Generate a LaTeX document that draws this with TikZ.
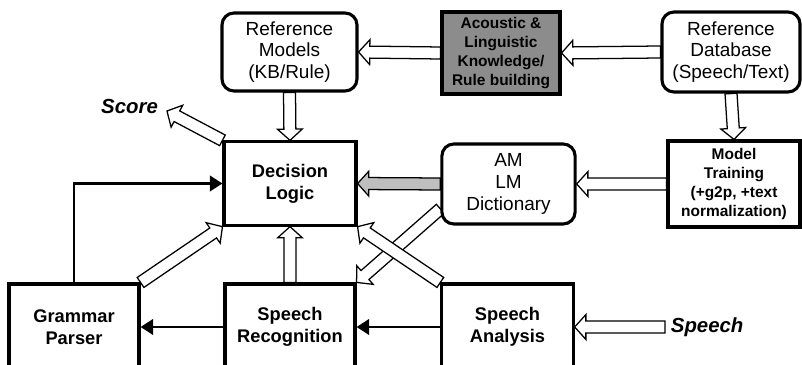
\documentclass[tikz,border=0pt]{standalone}
\usepackage{fontspec}
\setmainfont{Liberation Sans}
\usetikzlibrary{calc, arrows.meta, backgrounds}

\newcommand{\hollowarrow}[3][white]{%
  \coordinate (hb) at ($(#3)!0.28cm!(#2)$);
  \draw[line width=0.9pt, fill=#1, line join=miter]
    ($(#2)!0.15cm!90:(#3)$) -- ($(hb)!0.15cm!90:(#3)$) -- ($(hb)!0.31cm!90:(#3)$) -- (#3)
    -- ($(hb)!0.31cm!-90:(#3)$) -- ($(hb)!0.15cm!-90:(#3)$) -- ($(#2)!0.15cm!-90:(#3)$) -- cycle;}

\begin{document}
\begin{tikzpicture}[x=0.025cm, y=-0.025cm,
  blockbox/.style={draw, line width=2.2pt, fill=white, align=center, font=\fontsize{13}{15.5}\selectfont\bfseries},
  roundbox/.style={draw, line width=2.2pt, rounded corners=0.3cm, fill=white, align=center, font=\fontsize{13.5}{15.5}\selectfont},
  smallbold/.style={font=\fontsize{11}{13.4}\selectfont\bfseries},
  outlabel/.style={font=\fontsize{14.5}{17}\selectfont\bfseries\itshape},
  flow/.style={line width=2pt, -{Triangle[length=9pt, width=11pt]}}]

  \useasboundingbox (0,0) rectangle (802,365);
  \clip (0,0) rectangle (802,365);

  \node[roundbox, minimum width=3.375cm, minimum height=1.95cm] (refmod) at (289.5,52) {Reference\\Models\\(KB/Rule)};
  \node[blockbox, smallbold, fill=black!45, minimum width=2.95cm, minimum height=2.05cm] (acoustic) at (501,53) {Acoustic \&\\Linguistic\\Knowledge/\\Rule building};
  \node[roundbox, minimum width=3.45cm, minimum height=2cm] (refdb) at (731,52) {Reference\\Database\\(Speech/Text)};

  \node[blockbox, minimum width=3.3cm, minimum height=2.08cm] (decision) at (290,183.5) {Decision\\Logic};
  \node[roundbox, minimum width=3.33cm, minimum height=2cm] (amlm) at (508.5,184) {AM\\LM\\Dictionary};
  \node[blockbox, smallbold, minimum width=3.3cm, minimum height=2.15cm] (training) at (734,184) {Model\\Training\\(+g2p, +text\\normalization)};

  \node[blockbox, minimum width=3.25cm, minimum height=2.15cm] (grammar) at (74,327) {Grammar\\Parser};
  \node[blockbox, minimum width=3.25cm, minimum height=2.15cm] (recog) at (290,327) {Speech\\Recognition};
  \node[blockbox, minimum width=3.28cm, minimum height=2.15cm] (analysis) at (507.5,327) {Speech\\Analysis};

  \node[outlabel, anchor=west, inner sep=4pt] (speech) at (665,327) {Speech};
  \node[outlabel, anchor=east, inner sep=2pt] (score) at (161,106) {Score};
  \coordinate (scoretip) at (167,111);

  \begin{scope}[on background layer]
    \hollowarrow{acoustic.west}{refmod.east}
    \hollowarrow{refdb.west}{acoustic.east}
    \hollowarrow{refdb.south}{training.north}
    \hollowarrow{training.west}{amlm.east}
    \hollowarrow[black!25]{amlm.west}{decision.east}
    \hollowarrow{refmod.south}{decision.north}
    \hollowarrow{decision.north west}{scoretip}
    \hollowarrow{grammar.north east}{decision.south west}
    \hollowarrow{recog.north}{decision.south}
    \hollowarrow{amlm.200}{recog.north east}
    \hollowarrow{analysis.north west}{decision.south east}
    \hollowarrow{speech.west}{analysis.east}
  \end{scope}

  \draw[flow] (analysis.west) -- (recog.east);
  \draw[flow] (recog.west) -- (grammar.east);
  \draw[flow] (grammar.north) |- (decision.west);

\end{tikzpicture}
\end{document}
